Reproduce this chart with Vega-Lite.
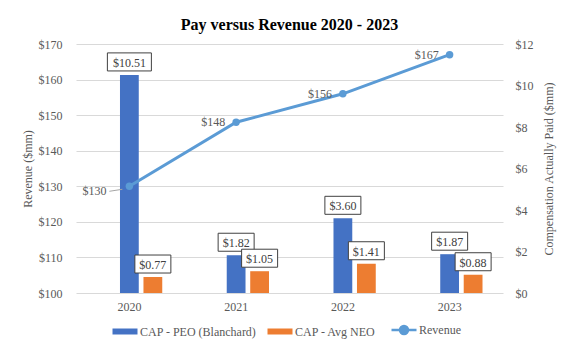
{
  "$schema": "https://vega.github.io/schema/vega-lite/v6.json",
  "autosize": "none",
  "width": 427,
  "height": 249,
  "padding": {"left": 76, "top": 44, "right": 68, "bottom": 57},
  "background": "white",
  "title": {"text": "Pay versus Revenue 2020 - 2023", "font": "Liberation Serif", "fontSize": 16, "fontWeight": "bold", "color": "#000000", "offset": 5, "anchor": "middle"},
  "data": {"values": [
    {"year": "2020", "series": "CAP - PEO (Blanchard)", "value": 10.51},
    {"year": "2020", "series": "CAP - Avg NEO", "value": 0.77},
    {"year": "2021", "series": "CAP - PEO (Blanchard)", "value": 1.82},
    {"year": "2021", "series": "CAP - Avg NEO", "value": 1.05},
    {"year": "2022", "series": "CAP - PEO (Blanchard)", "value": 3.60},
    {"year": "2022", "series": "CAP - Avg NEO", "value": 1.41},
    {"year": "2023", "series": "CAP - PEO (Blanchard)", "value": 1.87},
    {"year": "2023", "series": "CAP - Avg NEO", "value": 0.88},
    {"year": "2020", "series": "Revenue", "value": 130},
    {"year": "2021", "series": "Revenue", "value": 148},
    {"year": "2022", "series": "Revenue", "value": 156},
    {"year": "2023", "series": "Revenue", "value": 167}
  ]},
  "encoding": {
    "x": {"field": "year", "type": "nominal", "scale": {"paddingInner": 0.384, "paddingOuter": 0.192},
      "axis": {"title": null, "labelAngle": 0, "ticks": false, "domain": false, "labelPadding": 8}}
  },
  "layer": [
    {
      "transform": [{"filter": "datum.series !== 'Revenue'"}],
      "encoding": {
        "y": {"field": "value", "type": "quantitative", "scale": {"domain": [0, 12], "nice": false},
          "axis": {"orient": "right", "values": [0, 2, 4, 6, 8, 10, 12], "format": "$.0f", "grid": false, "ticks": false, "domain": false, "labelPadding": 12, "title": "Compensation Actually Paid ($mm)", "titleAngle": -90, "titlePadding": 22}},
        "xOffset": {"field": "series", "type": "nominal", "scale": {"domain": ["pad", "CAP - PEO (Blanchard)", "CAP - Avg NEO"], "paddingInner": 0.2, "paddingOuter": 0}}
      },
      "layer": [
        {
          "mark": {"type": "bar"},
          "encoding": {
            "color": {"field": "series", "type": "nominal",
              "scale": {"domain": ["CAP - PEO (Blanchard)", "CAP - Avg NEO", "Revenue"], "range": ["#4472C4", "#ED7D31", "#5B9BD5"]},
              "legend": {"title": null, "orient": "bottom", "direction": "horizontal", "offset": 12, "symbolSize": 625, "labelOffset": 9, "columnPadding": 10,
                "encode": {"symbols": {"update": {
                  "shape": {"signal": "datum.value === 'Revenue' ? 'M-1,0L1,0M0.32,0A0.32,0.32 0 1,1 -0.32,0A0.32,0.32 0 1,1 0.32,0Z' : 'M-1,-0.24L1,-0.24L1,0.24L-1,0.24Z'"},
                  "fill": {"scale": "color", "field": "value"},
                  "stroke": {"scale": "color", "field": "value"},
                  "strokeWidth": {"signal": "datum.value === 'Revenue' ? 2.5 : 0"},
                  "opacity": {"value": 1},
                  "fillOpacity": {"value": 1}
                }}}}
            }
          }
        },
        {
          "transform": [{"filter": "datum.value < 10"}],
          "mark": {"type": "point", "shape": "M-1,-0.5L1,-0.5L1,0.5L-1,0.5Z", "size": 1296, "filled": true, "fill": "white", "stroke": "#404040", "strokeWidth": 1, "opacity": 1, "yOffset": -13}
        },
        {
          "transform": [{"filter": "datum.value >= 10"}],
          "mark": {"type": "point", "shape": "M-1,-0.41L1,-0.41L1,0.41L-1,0.41Z", "size": 1936, "filled": true, "fill": "white", "stroke": "#404040", "strokeWidth": 1, "opacity": 1, "yOffset": -13}
        },
        {
          "mark": {"type": "text", "font": "Liberation Serif", "fontSize": 12, "color": "#404040", "baseline": "middle", "yOffset": -12},
          "encoding": {"text": {"field": "value", "type": "quantitative", "format": "$.2f"}}
        }
      ]
    },
    {
      "transform": [{"filter": "datum.series === 'Revenue'"}],
      "encoding": {
        "y": {"field": "value", "type": "quantitative", "scale": {"domain": [100, 170], "nice": false},
          "axis": {"orient": "left", "values": [100, 110, 120, 130, 140, 150, 160, 170], "format": "$.0f", "grid": true, "gridColor": "#D9D9D9", "ticks": false, "domain": false, "labelPadding": 14, "title": "Revenue ($mm)", "titlePadding": 4}}
      },
      "layer": [
        {
          "transform": [{"filter": "datum.year === '2020'"}],
          "mark": {"type": "rule", "color": "#A6A6A6", "strokeWidth": 1, "xOffset": -20, "x2Offset": -7, "yOffset": 5, "y2Offset": 3},
          "encoding": {"x2": {"field": "year"}, "y2": {"field": "value"}}
        },
        {
          "mark": {"type": "line", "strokeWidth": 3, "point": {"filled": true, "size": 55}},
          "encoding": {
            "color": {"field": "series", "type": "nominal",
              "scale": {"domain": ["CAP - PEO (Blanchard)", "CAP - Avg NEO", "Revenue"], "range": ["#4472C4", "#ED7D31", "#5B9BD5"]},
              "legend": {"title": null, "orient": "bottom", "direction": "horizontal", "offset": 12, "symbolSize": 625, "labelOffset": 9, "columnPadding": 10,
                "encode": {"symbols": {"update": {
                  "shape": {"signal": "datum.value === 'Revenue' ? 'M-1,0L1,0M0.32,0A0.32,0.32 0 1,1 -0.32,0A0.32,0.32 0 1,1 0.32,0Z' : 'M-1,-0.24L1,-0.24L1,0.24L-1,0.24Z'"},
                  "fill": {"scale": "color", "field": "value"},
                  "stroke": {"scale": "color", "field": "value"},
                  "strokeWidth": {"signal": "datum.value === 'Revenue' ? 2.5 : 0"},
                  "opacity": {"value": 1},
                  "fillOpacity": {"value": 1}
                }}}}
            }
          }
        },
        {
          "transform": [{"filter": "datum.year !== '2020'"}],
          "mark": {"type": "text", "font": "Liberation Serif", "fontSize": 12, "color": "#595959", "align": "right", "baseline": "middle", "dx": -11, "dy": 0},
          "encoding": {"text": {"field": "value", "type": "quantitative", "format": "$.0f"}}
        },
        {
          "transform": [{"filter": "datum.year === '2020'"}],
          "mark": {"type": "text", "font": "Liberation Serif", "fontSize": 12, "color": "#595959", "align": "right", "baseline": "middle", "dx": -23, "dy": 5},
          "encoding": {"text": {"field": "value", "type": "quantitative", "format": "$.0f"}}
        }
      ]
    }
  ],
  "resolve": {"scale": {"y": "independent"}},
  "config": {
    "font": "Liberation Serif",
    "view": {"stroke": null},
    "style": {"guide-label": {"font": "Liberation Serif"}, "guide-title": {"font": "Liberation Serif"}},
    "axis": {"labelFont": "Liberation Serif", "labelFontSize": 12, "labelColor": "#595959", "titleFont": "Liberation Serif", "titleFontSize": 12, "titleFontWeight": "normal", "titleColor": "#595959"},
    "legend": {"labelFont": "Liberation Serif", "labelFontSize": 12, "labelColor": "#595959", "layout": {"bottom": {"anchor": "middle"}}}
  }
}
